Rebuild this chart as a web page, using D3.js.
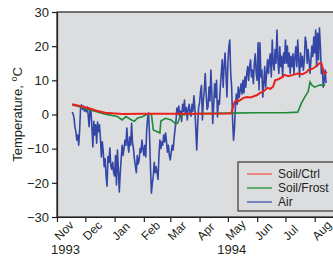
<!DOCTYPE html>
<html>
<head>
<meta charset="utf-8">
<script src="https://cdn.jsdelivr.net/npm/d3@7"></script>
<style>
  body { margin: 0; background: #fff; }
  svg text { font-family: "Liberation Sans", Arial, sans-serif; fill: #231f20; }
</style>
</head>
<body>
<svg id="chart" width="333" height="256"></svg>
<script>
// soil temperature under control plot, [date, degC]
const soilCtrl = [
    ['1993-11-17', 3.0], ['1993-11-25', 2.5], ['1993-12-04', 1.9], ['1993-12-13', 1.1],
    ['1993-12-22', 0.5], ['1994-01-09', 0.15], ['1994-02-01', 0.2], ['1994-03-01', 0.2],
    ['1994-04-01', 0.25], ['1994-05-04', 0.3], ['1994-05-05', 0.7], ['1994-05-08', 3.6],
    ['1994-05-10', 4.2], ['1994-05-13', 4.0], ['1994-05-17', 4.8], ['1994-05-21', 5.1],
    ['1994-05-25', 5.0], ['1994-06-01', 5.7], ['1994-06-04', 6.3], ['1994-06-07', 6.6],
    ['1994-06-12', 7.8], ['1994-06-15', 7.5], ['1994-06-18', 8.2], ['1994-06-20', 10.0],
    ['1994-06-24', 10.4], ['1994-06-28', 11.0], ['1994-06-30', 11.6], ['1994-07-04', 11.2],
    ['1994-07-09', 11.6], ['1994-07-14', 12.0], ['1994-07-19', 11.8], ['1994-07-24', 12.5],
    ['1994-07-25', 13.0], ['1994-07-30', 13.4], ['1994-08-04', 14.5], ['1994-08-06', 15.0],
    ['1994-08-08', 15.0], ['1994-08-11', 12.0], ['1994-08-14', 12.4]
];

// soil temperature under snow-removal (frost) plot, [date, degC]
const soilFrost = [
    ['1993-11-17', 2.8], ['1993-11-25', 2.3], ['1993-12-04', 1.5], ['1993-12-13', 0.8],
    ['1993-12-22', 0.1], ['1994-01-04', -0.6], ['1994-01-09', -1.6], ['1994-01-13', -0.6],
    ['1994-01-19', -1.6], ['1994-01-22', -2.0], ['1994-01-25', -1.1], ['1994-01-31', -0.6],
    ['1994-02-05', 0.1], ['1994-02-09', 0.1], ['1994-02-11', -4.5], ['1994-02-18', -5.4],
    ['1994-02-19', -1.9], ['1994-02-24', -1.1], ['1994-03-02', -1.6], ['1994-03-07', -2.8],
    ['1994-03-09', -2.5], ['1994-03-12', -0.1], ['1994-04-01', 0.3], ['1994-05-01', 0.4],
    ['1994-06-01', 0.5], ['1994-07-01', 0.5], ['1994-07-14', 0.7], ['1994-07-18', 3.4],
    ['1994-07-24', 6.3], ['1994-07-25', 6.6], ['1994-07-27', 9.5], ['1994-07-29', 8.6],
    ['1994-08-01', 8.0], ['1994-08-06', 8.6], ['1994-08-12', 8.6]
];

// daily air temperature from 17 Nov 1993, degC
const airStart = '1993-11-17';
const airTemp = [
    // Nov
    0.7, 0.3, -1, -3.6, -5, -7.5, -6, -9, -4.5, 2.2, 2.8, 1.5, 2.5, 1.0,
    // Dec
    2.0, 0.8, 2.2, 0, -3.6, 1.5, 1.0, -4, -9.5, -2, -6, -3, -8.4, -2.2, -5, -3,
    -7, -12.4, -8, -11, -15.3, -13, -18, -21, -12.3, -14, -9.8, -15, -16, -14, -17,
    // Jan
    -18, -12, -20.6, -10.4, -16, -22.7, -17, -13, -9, -12, -10, -7.5, -9, -4, -8.4, -11,
    -6.6, -9, -2.6, -8.4, -10, -13, -15, -17, -12, -14.5, -13.3, -10, -11, -7.5, -10,
    // Feb
    -12, -9, -12.4, -4.5, -1, 0.4, -6, -15.3, -23, -20, -18, -14, -17, -15.3,
    -17, -19, -12, -7.5, -10, -8, -9, -6, -8, -5.4, -8, -11, -9, -12,
    // Mar
    -13.3, -11, -9, -10.4, -7, -4.5, -2, 1.9, 0, 2.5, -0.7, 1, -2, 3, 1, 4.2,
    0, 2, -1.6, 1.5, 3, 0.5, -0.5, 3, 1, 5.5, 2, -4, -10.4, -3, 2,
    // Apr
    3.4, 6.6, 8.5, -1.6, 4, 7, 12, 6, 1.5, 2.2, 8, 4, 13, 6, -2.6,
    3, 9, 5, 10, -0.7, 4, 3, 8, 12, 16, 8, 14, 18, 12, 5.1,
    // May
    15, 19.8, 21.8, 12, 8, -1.6, -7.5, -4, 2.2, 6, 3, 8, 5, 7, 9, 6,
    10, 6.3, 11, 8, 12, 14, 10, 14, 16, 11, 13, 9, 15, 17.8, 12,
    // Jun
    10, 21, 7.2, 21, 11, 13, 5.1, 9, 14, 8, 12, 16, 12, 16, 17.8,
    11, 21.8, 15, 13, 19, 15, 24.7, 16, 12, 19.8, 14, 17, 11, 18, 15,
    // Jul
    21.8, 15, 20, 14, 18, 12, 17, 14, 17.8, 12, 16.8, 19.8, 14, 21.8, 16, 11,
    18, 14, 17, 13, 16, 22.7, 21, 15, 19, 16, 12, 16, 20, 17, 22.7,
    // Aug
    18, 24.7, 14, 23.8, 16, 25.3, 20, 12, 14, 8, 10, 13, 9.2
];

const yTicks = [-30, -20, -10, 0, 10, 20, 30];
const seriesNames = ['Soil/Ctrl', 'Soil/Frost', 'Air'];
const seriesColors = ['#e8231e', '#1f8a3a', '#3447a6'];
const legendColors = ['#ec6a5e', '#3b9b4d', '#5563b3'];
const yearLabels = [['1993', '1993-11-10'], ['1994', '1994-05-05']];

const parse = d3.timeParse('%Y-%m-%d');

const svg = d3.select('#chart');
const margin = {left: 57, top: 12, bottom: 39};
const height = 256;

const xscale = d3.scaleTime()
    .domain([parse('1993-11-01'), parse('1994-09-01')])
    .range([margin.left, 344]);
const yscale = d3.scaleLinear()
    .domain([-30, 30])
    .range([height - margin.bottom, margin.top]);

// plot background
svg.append('rect')
    .attr('x', xscale.range()[0])
    .attr('y', margin.top)
    .attr('width', xscale.range()[1] - xscale.range()[0])
    .attr('height', yscale(-30) - yscale(30))
    .attr('fill', '#dcdddf')
    .attr('stroke', '#231f20')
    .attr('stroke-width', 1.2);

const line = d3.line()
    .x(d => xscale(d[0]))
    .y(d => yscale(d[1]));

const airData = airTemp.map((v, i) => [d3.timeDay.offset(parse(airStart), i), v]);
const ctrlData = soilCtrl.map(d => [parse(d[0]), d[1]]);
const frostData = soilFrost.map(d => [parse(d[0]), d[1]]);

svg.append('path')
    .datum(airData)
    .attr('d', line)
    .attr('fill', 'none')
    .attr('stroke', seriesColors[2])
    .attr('stroke-width', 1.6)
    .attr('stroke-linejoin', 'round');

svg.append('path')
    .datum(frostData)
    .attr('d', line)
    .attr('fill', 'none')
    .attr('stroke', seriesColors[1])
    .attr('stroke-width', 1.6);

svg.append('path')
    .datum(ctrlData)
    .attr('d', line)
    .attr('fill', 'none')
    .attr('stroke', seriesColors[0])
    .attr('stroke-width', 2);

// axes
const yaxis = d3.axisLeft(yscale)
    .tickValues(yTicks)
    .tickSize(5)
    .tickSizeOuter(0)
    .tickPadding(3);
const ygroup = svg.append('g')
    .attr('transform', `translate(${margin.left}, 0)`)
    .call(yaxis);
ygroup.selectAll('text').style('font-size', '13px').attr('font-family', null);
ygroup.selectAll('line, path').attr('stroke', '#231f20').attr('stroke-width', 1.2);

const xaxis = d3.axisBottom(xscale)
    .ticks(d3.timeMonth.every(1))
    .tickFormat(d3.timeFormat('%b'))
    .tickSize(5)
    .tickSizeOuter(0);
const xgroup = svg.append('g')
    .attr('transform', `translate(0, ${yscale(-30)})`)
    .call(xaxis);
xgroup.selectAll('line, path').attr('stroke', '#231f20').attr('stroke-width', 1.2);
xgroup.selectAll('text')
    .style('font-size', '12px')
    .attr('font-family', null)
    .attr('text-anchor', 'start')
    .attr('dy', null)
    .attr('y', 0)
    .attr('x', 0)
    .attr('transform', 'translate(2, 24) rotate(-45)');

svg.selectAll('.year')
    .data(yearLabels)
    .join('text')
    .attr('class', 'year')
    .attr('x', d => xscale(parse(d[1])))
    .attr('y', 254)
    .attr('text-anchor', 'middle')
    .style('font-size', '13px')
    .text(d => d[0]);

// y label
const ylab = svg.append('text')
    .attr('transform', `translate(22, ${yscale(0)}) rotate(-90)`)
    .attr('text-anchor', 'middle')
    .style('font-size', '13px');
ylab.append('tspan').text('Temperature, ');
ylab.append('tspan').attr('dy', -5).style('font-size', '9px').text('o');
ylab.append('tspan').attr('dy', 5).text('C');

// legend
const legend = svg.append('g').attr('transform', 'translate(238, 162)');
legend.append('rect')
    .attr('width', 110)
    .attr('height', 49)
    .attr('fill', '#dcdddf')
    .attr('stroke', '#3a3a3a')
    .attr('stroke-width', 1.2);
seriesNames.forEach((name, i) => {
    const y = 12 + i * 14;
    legend.append('line')
        .attr('x1', 9).attr('x2', 34)
        .attr('y1', y).attr('y2', y)
        .attr('stroke', legendColors[i])
        .attr('stroke-width', 1.5);
    legend.append('text')
        .attr('x', 40)
        .attr('y', y + 4)
        .style('font-size', '12px')
        .text(name);
});
</script>
</body>
</html>
